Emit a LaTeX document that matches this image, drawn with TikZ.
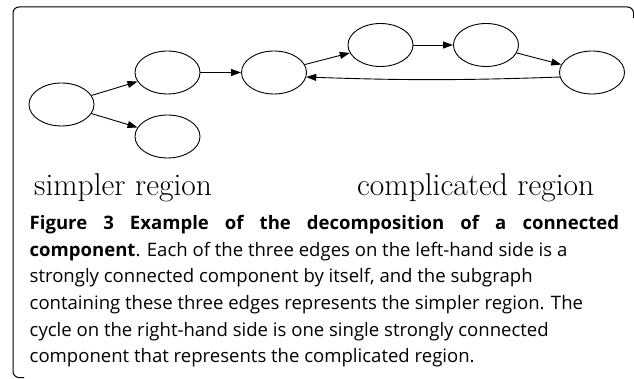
\documentclass[tikz,border=0pt]{standalone}
\usepackage{fontspec}
\usetikzlibrary{shapes.geometric,arrows.meta}
\newfontfamily\capfont{Open Sans}
\begin{document}
\begin{tikzpicture}[x=1pt,y=-1pt,
  vtx/.style={draw, ellipse, line width=0.9pt, minimum width=65pt, minimum height=43pt, inner sep=0pt},
  edge/.style={draw, line width=0.9pt, -{Triangle[length=10pt,width=7pt]}},
  region/.style={anchor=base west, inner sep=0pt, font=\fontsize{31.5}{36}\selectfont},
  capline/.style={anchor=base west, inner sep=0pt, font=\capfont\fontsize{18.55}{22}\selectfont}]
\useasboundingbox (0,0) rectangle (634,379);
\draw[line width=1pt, rounded corners=6pt] (633.5,18) -- (633.5,7) -- (13,7) -- (13,377.5) -- (24,377.5);
\node[vtx] (A) at (61.5,104.5) {};
\node[vtx] (B) at (167.5,72.5) {};
\node[vtx] (C) at (167.5,136.5) {};
\node[vtx] (D) at (274,72.5) {};
\node[vtx] (E) at (380.5,45) {};
\node[vtx] (F) at (486,45) {};
\node[vtx] (G) at (592,72.5) {};
\draw[edge] (A) -- (B);
\draw[edge] (A) -- (C);
\draw[edge] (B) -- (D);
\draw[edge] (D) -- (E);
\draw[edge] (E) -- (F);
\draw[edge] (F) -- (G);
\draw[edge] (G.188) to[bend left=2] (D.-8);
\node[region] (sr) at (34,196) {simpler region};
\node[region] (cr) at (357,196) {complicated region};
\node[capline] (l1) at (29.5,230) {\makebox[589.5pt][s]{\bfseries Figure 3 Example of the decomposition of a connected}};
\node[capline] (l2) at (29.5,256.5) {\textbf{component}. Each of the three edges on the left-hand side is a};
\node[capline] (l3) at (29.5,283) {strongly connected component by itself, and the subgraph};
\node[capline] (l4) at (29.5,309.5) {containing these three edges represents the simpler region. The};
\node[capline] (l5) at (29.5,336) {cycle on the right-hand side is one single strongly connected};
\node[capline] (l6) at (29.5,362.5) {component that represents the complicated region.};
\end{tikzpicture}
\end{document}
